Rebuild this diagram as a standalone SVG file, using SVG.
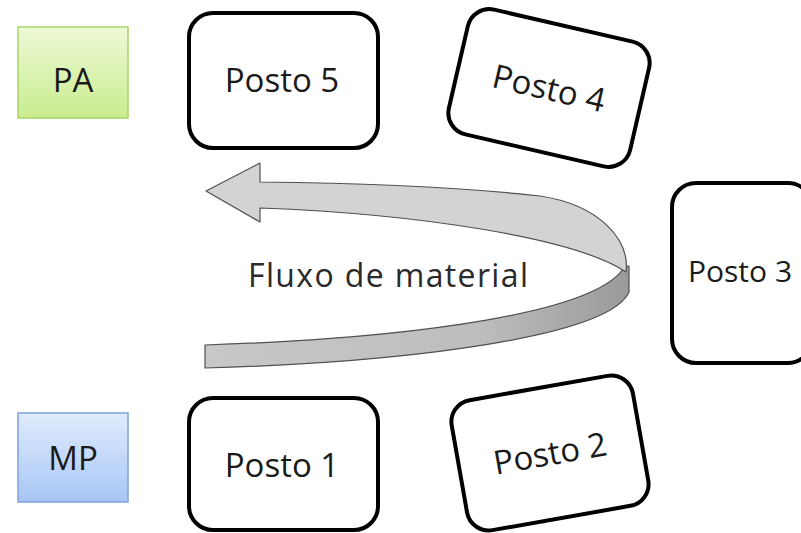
<svg xmlns="http://www.w3.org/2000/svg" width="801" height="533" viewBox="0 0 801 533">
<defs>
<linearGradient id="gGreen" x1="0" y1="0" x2="0" y2="1"><stop offset="0" stop-color="#eef9d6"/><stop offset="1" stop-color="#c9ec8e"/></linearGradient>
<linearGradient id="gBlue" x1="0" y1="0" x2="0" y2="1"><stop offset="0" stop-color="#e0ebfc"/><stop offset="1" stop-color="#a7c6f5"/></linearGradient>
<linearGradient id="gBack" x1="1" y1="0" x2="0" y2="0"><stop offset="0" stop-color="#9a9a9a"/><stop offset="0.35" stop-color="#bdbdbd"/><stop offset="1" stop-color="#c8c8c8"/></linearGradient>
<style>
.posto{fill:#fff;stroke:#000;stroke-width:4}
.lbl{font-family:"Open Sans","Noto Sans",sans-serif;font-size:33px;fill:#1a1a1a;text-anchor:middle}
.rib{stroke:#505050;stroke-width:1.2;stroke-linejoin:round}
</style>
</defs>
<rect width="801" height="533" fill="#fff"/>
<g id="connectors">
<path class="rib" fill="url(#gBack)" d="M625,266 C600,312 420,338 205,345 L205,368 C420,362 610,335 629,292 L629,266 Z"/>
<path class="rib" fill="#d3d3d3" d="M260,182 L260,163 L206,191 L260,222 L260,208 C420,214 575,238 626,272 C630,240 600,205 540,196 C450,186 350,183 260,182 Z"/>
</g>
<g id="PA"><rect x="18" y="27" width="110" height="91" fill="url(#gGreen)" stroke="#a7d46a" stroke-width="1.5"/><text class="lbl" x="73" y="92">PA</text></g>
<g id="MP"><rect x="18" y="413" width="110" height="89" fill="url(#gBlue)" stroke="#7ea3da" stroke-width="1.5"/><text class="lbl" x="73" y="470">MP</text></g>
<g id="posto5"><rect class="posto" x="189" y="13" width="189" height="135" rx="24"/><text class="lbl" x="282" y="92">Posto 5</text></g>
<g id="posto4" transform="translate(549,88) rotate(13)"><rect class="posto" x="-93" y="-64" width="186" height="128" rx="22"/><text class="lbl" x="0" y="12">Posto 4</text></g>
<g id="posto3"><rect class="posto" x="672" y="183" width="140" height="180" rx="24"/><text class="lbl" x="740" y="282" style="font-size:30px">Posto 3</text></g>
<g id="posto2" transform="translate(550,453) rotate(-10)"><rect class="posto" x="-92" y="-66" width="184" height="132" rx="22"/><text class="lbl" x="0" y="12">Posto 2</text></g>
<g id="posto1"><rect class="posto" x="189" y="398" width="189" height="132" rx="24"/><text class="lbl" x="282" y="477">Posto 1</text></g>
<text x="248" y="287" font-family="'Open Sans','Noto Sans',sans-serif" font-size="32" fill="#2a2a2a" textLength="280" lengthAdjust="spacing">Fluxo de material</text>
</svg>
